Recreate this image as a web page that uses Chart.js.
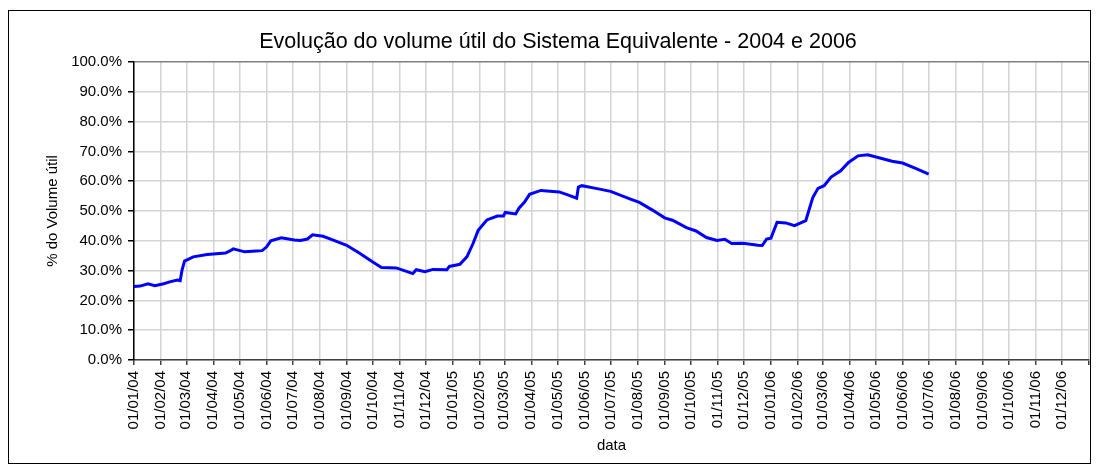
<!DOCTYPE html>
<html>
<head>
<meta charset="utf-8">
<script src="https://cdn.jsdelivr.net/npm/chart.js@4.4.1/dist/chart.umd.min.js"></script>
<style>
  html, body { margin: 0; padding: 0; background: #fff; }
  #wrap { width: 1098px; height: 473px; position: relative; }
</style>
</head>
<body>
<div id="wrap"><canvas id="volumeChart" width="1098" height="473"></canvas></div>
<script>
// datas (dd/mm/aa) e volume útil em %
const dates = [
  '01/01/04', '08/01/04', '17/01/04', '25/01/04', '04/02/04', '12/02/04', '20/02/04', '23/02/04',
  '25/02/04', '28/02/04', '09/03/04', '25/03/04', '15/04/04', '20/04/04', '24/04/04', '07/05/04',
  '20/05/04', '27/05/04', '01/06/04', '06/06/04', '18/06/04', '03/07/04', '10/07/04', '18/07/04',
  '24/07/04', '05/08/04', '16/08/04', '01/09/04', '16/09/04', '01/10/04', '11/10/04', '28/10/04',
  '07/11/04', '16/11/04', '20/11/04', '30/11/04', '09/12/04', '25/12/04', '28/12/04', '09/01/05',
  '17/01/05', '24/01/05', '30/01/05', '09/02/05', '21/02/05', '28/02/05', '02/03/05', '14/03/05',
  '18/03/05', '24/03/05', '30/03/05', '12/04/05', '03/05/05', '12/05/05', '23/05/05', '25/05/05',
  '29/05/05', '14/06/05', '01/07/05', '23/07/05', '03/08/05', '18/08/05', '01/09/05', '10/09/05',
  '26/09/05', '07/10/05', '19/10/05', '31/10/05', '09/11/05', '17/11/05', '30/11/05', '17/12/05',
  '22/12/05', '27/12/05', '01/01/06', '08/01/06', '18/01/06', '28/01/06', '10/02/06', '18/02/06',
  '24/02/06', '03/03/06', '11/03/06', '22/03/06', '31/03/06', '11/04/06', '22/04/06', '20/05/06',
  '01/06/06', '16/06/06', '01/07/06'
];
const volume = [
  24.7, 24.8, 25.6, 24.9, 25.6, 26.3, 26.8, 26.6,
  30.0, 33.2, 34.6, 35.4, 35.9, 36.6, 37.3, 36.3,
  36.6, 36.7, 37.9, 40.0, 41.0, 40.3, 40.1, 40.6,
  42.0, 41.5, 40.3, 38.5, 35.8, 32.9, 31.0, 30.9,
  29.9, 29.0, 30.3, 29.6, 30.4, 30.3, 31.4, 32.1,
  34.6, 39.0, 43.5, 47.0, 48.3, 48.3, 49.5, 49.0,
  51.0, 52.9, 55.6, 56.9, 56.4, 55.5, 54.3, 58.0,
  58.5, 57.6, 56.6, 54.1, 52.9, 50.3, 47.7, 46.9,
  44.4, 43.3, 41.1, 40.1, 40.5, 39.1, 39.2, 38.5,
  38.4, 40.6, 40.9, 46.2, 46.0, 45.1, 46.8, 54.5,
  57.6, 58.5, 61.4, 63.5, 66.3, 68.5, 68.9, 66.7,
  66.1, 64.3, 62.4
];

// rótulos do eixo x (primeiro dia de cada mês) e fim do eixo
const tickLabels = [
  '01/01/04', '01/02/04', '01/03/04', '01/04/04', '01/05/04', '01/06/04',
  '01/07/04', '01/08/04', '01/09/04', '01/10/04', '01/11/04', '01/12/04',
  '01/01/05', '01/02/05', '01/03/05', '01/04/05', '01/05/05', '01/06/05',
  '01/07/05', '01/08/05', '01/09/05', '01/10/05', '01/11/05', '01/12/05',
  '01/01/06', '01/02/06', '01/03/06', '01/04/06', '01/05/06', '01/06/06',
  '01/07/06', '01/08/06', '01/09/06', '01/10/06', '01/11/06', '01/12/06'
];
const axisEnd = '01/01/07';

const yTicks = [0, 10, 20, 30, 40, 50, 60, 70, 80, 90, 100];

// dias desde 01/01/04
function toDay(s) {
  const [d, m, y] = s.split('/').map(Number);
  return (Date.UTC(2000 + y, m - 1, d) - Date.UTC(2004, 0, 1)) / 86400000;
}

const points = dates.map((d, i) => ({ x: toDay(d), y: volume[i] }));
const tickDays = tickLabels.map(toDay);
const endDay = toDay(axisEnd);

const FONT = 'Liberation Sans, Arial, sans-serif';

// moldura e título
const framePlugin = {
  id: 'frame',
  beforeDraw(chart) {
    const ctx = chart.ctx;
    ctx.save();
    ctx.fillStyle = '#fff';
    ctx.fillRect(0, 0, chart.width, chart.height);
    ctx.restore();
  },
  afterDraw(chart) {
    const ctx = chart.ctx;
    ctx.save();
    ctx.strokeStyle = '#000';
    ctx.lineWidth = 1;
    ctx.strokeRect(8.5, 10.5, 1082, 453);
    ctx.fillStyle = '#000';
    ctx.font = '21.5px ' + FONT;
    ctx.textAlign = 'center';
    ctx.textBaseline = 'middle';
    ctx.fillText('Evolução do volume útil do Sistema Equivalente - 2004 e 2006', 558, 42);
    ctx.restore();
  }
};

new Chart(document.getElementById('volumeChart'), {
  type: 'line',
  data: {
    datasets: [{
      label: 'Volume útil',
      data: points,
      borderColor: '#0000ff',
      borderWidth: 3,
      pointRadius: 0,
      tension: 0,
      fill: false
    }]
  },
  options: {
    responsive: false,
    animation: false,
    layout: { padding: { left: 0, right: 9, top: 62, bottom: 0 } },
    plugins: {
      legend: { display: false },
      tooltip: { enabled: false },
      title: { display: false }
    },
    scales: {
      x: {
        type: 'linear',
        min: 0,
        max: endDay,
        afterBuildTicks(scale) {
          scale.ticks = tickDays.map(v => ({ value: v })).concat([{ value: endDay }]);
        },
        afterFit(scale) {
          scale.height = 113;
          scale.paddingLeft = 0;
          scale.paddingRight = 0;
        },
        ticks: {
          autoSkip: false,
          minRotation: 90,
          maxRotation: 90,
          padding: 6,
          color: '#000',
          font: { family: FONT, size: 15 },
          callback(value) {
            const i = tickDays.indexOf(value);
            return i >= 0 ? tickLabels[i] : '';
          }
        },
        grid: {
          color: '#d4d4d4',
          lineWidth: 1.5,
          tickColor: '#404040',
          tickLength: 5
        },
        border: { color: '#404040', width: 1.5 },
        title: {
          display: true,
          text: 'data',
          color: '#000',
          font: { family: FONT, size: 15 },
          padding: { top: 0, bottom: 18 }
        }
      },
      y: {
        min: 0,
        max: 100,
        afterBuildTicks(scale) {
          scale.ticks = yTicks.map(v => ({ value: v }));
        },
        afterFit(scale) { scale.width = 134; },
        ticks: {
          padding: 6,
          color: '#000',
          font: { family: FONT, size: 15 },
          callback: v => v.toFixed(1) + '%'
        },
        grid: {
          color: ctx => ctx.tick && ctx.tick.value === 100 ? '#808080' : '#d4d4d4',
          lineWidth: 1.5,
          tickColor: '#000',
          tickLength: 6
        },
        border: { color: '#000', width: 1.5 },
        title: {
          display: true,
          text: '% do Volume útil',
          color: '#000',
          font: { family: FONT, size: 15 },
          padding: { top: 44, bottom: 0 }
        }
      }
    }
  },
  plugins: [framePlugin]
});
</script>
</body>
</html>
